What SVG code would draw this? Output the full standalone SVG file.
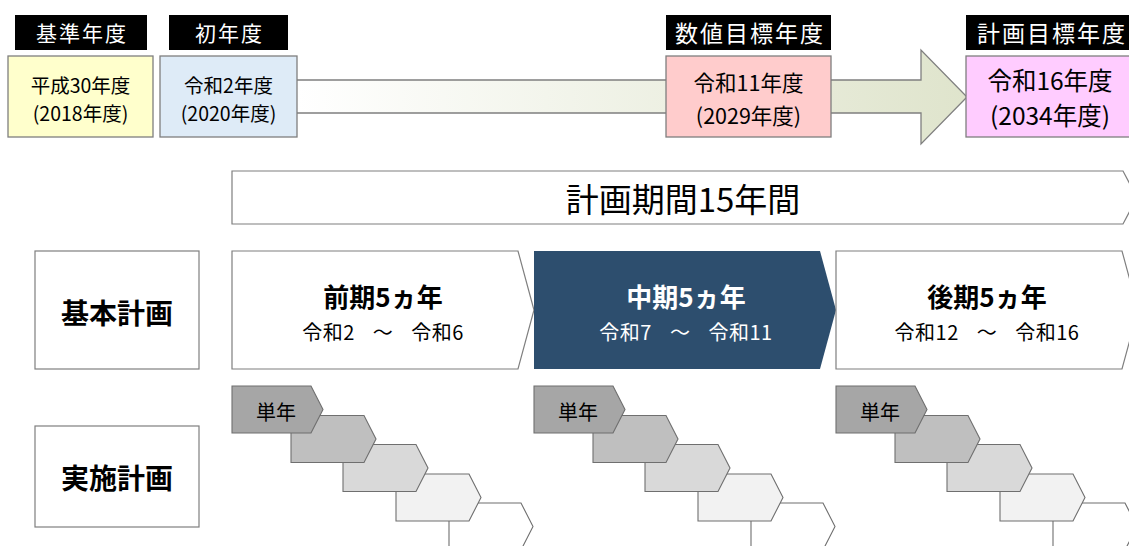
<svg xmlns="http://www.w3.org/2000/svg" width="1129" height="546" viewBox="0 0 1129 546">
<style>
text{font-family:"Noto Sans CJK JP","Noto Sans",sans-serif;text-anchor:middle;dominant-baseline:central;}
.lbl{fill:#000;}
.lbltx{fill:#fff;font-size:21px;letter-spacing:2px;}
.lbltx2{fill:#fff;font-size:23px;letter-spacing:2px;}
.box{stroke:#7f7f7f;stroke-width:1.3;}
.v{font-size:19.5px;fill:#000;}
.vp{font-size:21.5px;fill:#000;}
.vl{font-size:24.5px;fill:#000;}
.ol{fill:#fff;stroke:#7f7f7f;stroke-width:1.2;}
.ttl{font-size:26px;font-weight:bold;fill:#000;}
.sub{font-size:20px;fill:#000;word-spacing:13px;letter-spacing:0.5px;}
.w{fill:#fff;}
.side{font-size:28px;font-weight:bold;fill:#000;}
.yr{stroke:#6f6f6f;stroke-width:1.1;}
.yt{font-size:20px;fill:#000;}
</style>
<defs>
<linearGradient id="ag" x1="297" y1="0" x2="967" y2="0" gradientUnits="userSpaceOnUse">
<stop offset="0" stop-color="#ffffff"/>
<stop offset="1" stop-color="#dfe4cc"/>
</linearGradient>
</defs>

<g id="connectors">
<path d="M290,80 H921 V50 L967,97 L921,144 V113 H290 Z" fill="url(#ag)" stroke="#7f7f7f" stroke-width="1.3"/>
</g>

<g id="base-year">
<rect class="lbl" x="15" y="15" width="132" height="35"/>
<text class="lbltx" x="82" y="32">基準年度</text>
<rect class="box" x="8" y="56" width="145" height="81" fill="#ffffcc"/>
<text class="v" x="80.5" y="84">平成30年度</text>
<text class="v" x="80.5" y="112">(2018年度)</text>
</g>

<g id="first-year">
<rect class="lbl" x="169" y="15" width="119" height="35"/>
<text class="lbltx" x="229.5" y="32">初年度</text>
<rect class="box" x="160" y="56" width="137" height="81" fill="#deebf7"/>
<text class="v" x="228.5" y="84">令和2年度</text>
<text class="v" x="228.5" y="112">(2020年度)</text>
</g>

<g id="numeric-target-year">
<rect class="lbl" x="666" y="15" width="165" height="35"/>
<text class="lbltx2" x="750" y="32">数値目標年度</text>
<rect class="box" x="666" y="56" width="165" height="81" fill="#ffcccc"/>
<text class="vp" x="748.5" y="81">令和11年度</text>
<text class="vp" x="748.5" y="114">(2029年度)</text>
</g>

<g id="plan-target-year">
<rect class="lbl" x="966" y="15" width="170" height="35"/>
<text class="lbltx2" x="1052" y="32">計画目標年度</text>
<rect class="box" x="966" y="56" width="170" height="81" fill="#ffccff"/>
<text class="vl" x="1050" y="79">令和16年度</text>
<text class="vl" x="1050" y="114">(2034年度)</text>
</g>

<g id="plan-period">
<path class="ol" d="M232,171 H1123 L1137,197.5 L1123,224 H232 Z"/>
<text x="683" y="198" style="font-size:33px;fill:#000;">計画期間15年間</text>
</g>

<g id="basic-plan-label">
<rect class="ol" x="35" y="251" width="164" height="118"/>
<text class="side" x="117" y="312">基本計画</text>
</g>

<g id="early-term">
<path class="ol" d="M232,251 H518 L534,310 L518,369 H232 Z"/>
<text class="ttl" x="383" y="295">前期5ヵ年</text>
<text class="sub" x="383" y="331">令和2 ～ 令和6</text>
</g>

<g id="mid-term">
<path d="M534,251 H820 L836,310 L820,369 H534 Z" fill="#2d4e6e"/>
<text class="ttl w" x="686" y="295">中期5ヵ年</text>
<text class="sub w" x="686" y="331">令和7 ～ 令和11</text>
</g>

<g id="late-term">
<path class="ol" d="M836,251 H1122 L1138,310 L1122,369 H836 Z"/>
<text class="ttl" x="987" y="295">後期5ヵ年</text>
<text class="sub" x="987" y="331">令和12 ～ 令和16</text>
</g>

<g id="implementation-plan-label">
<rect class="ol" x="35" y="426" width="164" height="101"/>
<text class="side" x="117" y="477">実施計画</text>
</g>

<g id="annual-early">
<path class="yr" fill="#ffffff" d="M449,503 H521 L533,526.5 L521,550 H449 Z"/>
<path class="yr" fill="#f2f2f2" d="M396,474 H469 L481,497.5 L469,521 H396 Z"/>
<path class="yr" fill="#d9d9d9" d="M343,444.5 H416 L428,468 L416,491.5 H343 Z"/>
<path class="yr" fill="#bfbfbf" d="M291,415.5 H364 L376,439 L364,462.5 H291 Z"/>
<path class="yr" fill="#a6a6a6" d="M232,386 H311 L323,409.5 L311,433 H232 Z"/>
<text class="yt" x="276" y="411">単年</text>
</g>

<g id="annual-mid" transform="translate(302,0)">
<path class="yr" fill="#ffffff" d="M449,503 H521 L533,526.5 L521,550 H449 Z"/>
<path class="yr" fill="#f2f2f2" d="M396,474 H469 L481,497.5 L469,521 H396 Z"/>
<path class="yr" fill="#d9d9d9" d="M343,444.5 H416 L428,468 L416,491.5 H343 Z"/>
<path class="yr" fill="#bfbfbf" d="M291,415.5 H364 L376,439 L364,462.5 H291 Z"/>
<path class="yr" fill="#a6a6a6" d="M232,386 H311 L323,409.5 L311,433 H232 Z"/>
<text class="yt" x="276" y="411">単年</text>
</g>

<g id="annual-late" transform="translate(604,0)">
<path class="yr" fill="#ffffff" d="M449,503 H521 L533,526.5 L521,550 H449 Z"/>
<path class="yr" fill="#f2f2f2" d="M396,474 H469 L481,497.5 L469,521 H396 Z"/>
<path class="yr" fill="#d9d9d9" d="M343,444.5 H416 L428,468 L416,491.5 H343 Z"/>
<path class="yr" fill="#bfbfbf" d="M291,415.5 H364 L376,439 L364,462.5 H291 Z"/>
<path class="yr" fill="#a6a6a6" d="M232,386 H311 L323,409.5 L311,433 H232 Z"/>
<text class="yt" x="276" y="411">単年</text>
</g>
</svg>
